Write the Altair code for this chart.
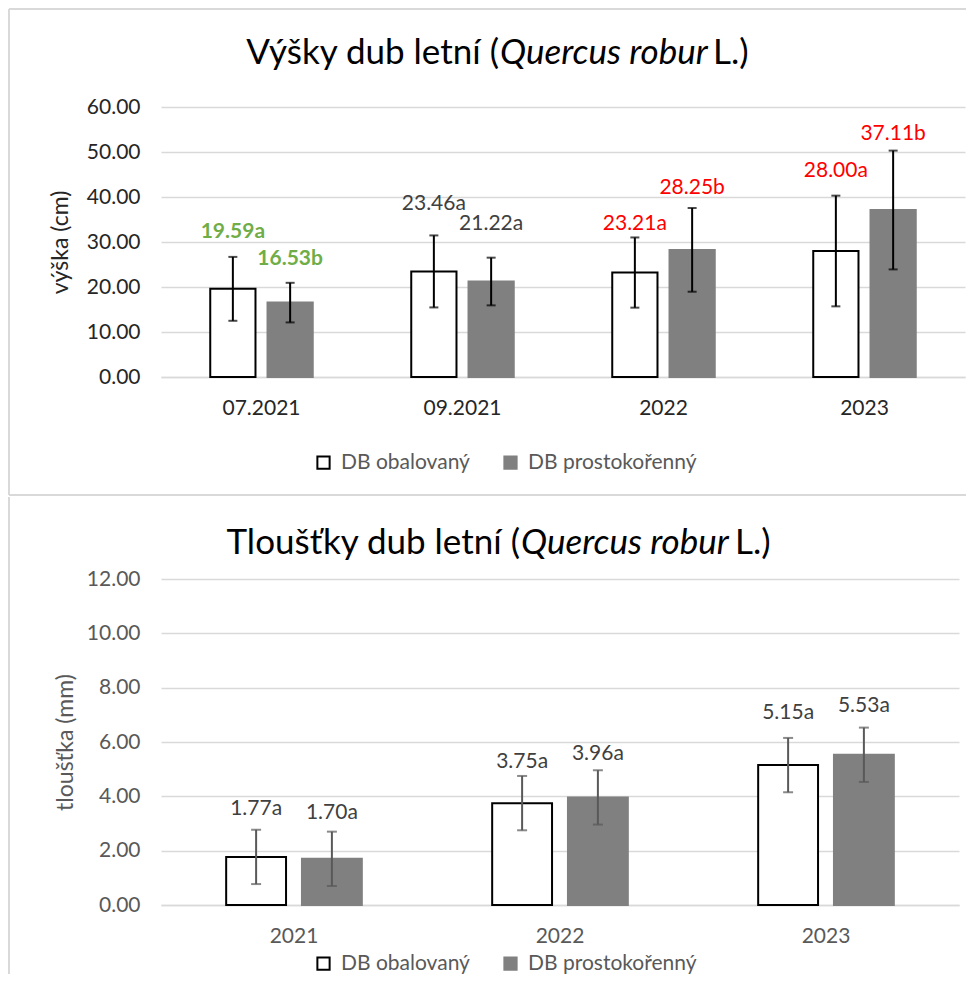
import altair as alt
import pandas as pd

FONT = "Lato"

# ---------------- data: heights (výška, cm) ----------------
h_dates = ["07.2021", "09.2021", "2022", "2023"]
h_obal = [19.59, 23.46, 23.21, 28.00]
h_pros = [16.53, 21.22, 28.25, 37.11]
h_obal_err = [7.1, 8.0, 7.8, 12.3]
h_pros_err = [4.4, 5.3, 9.3, 13.2]
h_obal_sig = ["a", "a", "a", "a"]
h_pros_sig = ["b", "a", "b", "b"]
h_obal_label_at = [32.2, 38.4, 34.0, 45.8]
h_pros_label_at = [26.2, 34.0, 42.0, 54.0]

# ---------------- data: thickness (tloušťka, mm) ----------------
t_years = ["2021", "2022", "2023"]
t_obal = [1.77, 3.75, 5.15]
t_pros = [1.70, 3.96, 5.53]
t_obal_err = [1.0, 1.0, 1.0]
t_pros_err = [1.0, 1.0, 1.0]
t_obal_sig = ["a", "a", "a"]
t_pros_sig = ["a", "a", "a"]
t_obal_label_at = [3.53, 5.26, 7.07]
t_pros_label_at = [3.39, 5.56, 7.32]

series = ["DB obalovaný", "DB prostokořenný"]

# label styles per category (style, not data)
h_style = {"07.2021": ("#70AD47", "bold"), "09.2021": ("#404040", "normal"),
           "2022": ("#FF0000", "normal"), "2023": ("#FF0000", "normal")}
t_style = {c: ("#404040", "normal") for c in t_years}


def make_df(cats, a, b, ea, eb, sa, sb, la, lb, style):
    rows = []
    for i, c in enumerate(cats):
        for s, v, e, g, l in ((series[0], a[i], ea[i], sa[i], la[i]),
                              (series[1], b[i], eb[i], sb[i], lb[i])):
            rows.append(dict(cat=c, series=s, value=v, err=e,
                             label=f"{v:.2f}{g}", label_at=l,
                             lab_color=style[c][0], lab_weight=style[c][1]))
    return pd.DataFrame(rows)


h_df = make_df(h_dates, h_obal, h_pros, h_obal_err, h_pros_err,
               h_obal_sig, h_pros_sig, h_obal_label_at, h_pros_label_at, h_style)
t_df = make_df(t_years, t_obal, t_pros, t_obal_err, t_pros_err,
               t_obal_sig, t_pros_sig, t_obal_label_at, t_pros_label_at, t_style)

one = pd.DataFrame({"k": [0]})


def panel(df, cats, ymax, ystep, width, height, ytitle, ytitle_x, axis_color,
          err_color, cap, title_parts, title_y, title_x, title_size, legend_y, border):
    xdef = alt.X("cat:N", sort=cats,
                 scale=alt.Scale(paddingInner=0.49, paddingOuter=0.245),
                 axis=alt.Axis(title=None, labelAngle=0, labelFont=FONT, labelFontSize=21,
                               labelColor=axis_color, labelPadding=31, labelBaseline="middle",
                               ticks=False, tickSize=0, domain=True, domainColor="#d9d9d9",
                               domainWidth=1.5, grid=False))
    xo = alt.XOffset("series:N", sort=series,
                     scale=alt.Scale(domain=series, paddingInner=0.21, paddingOuter=0))
    yscale = alt.Scale(domain=[0, ymax], nice=False)
    vals = [i * ystep for i in range(int(round(ymax / ystep)) + 1)]
    yaxis = alt.Axis(values=vals, format=".2f", title=ytitle, grid=True, gridColor="#d9d9d9",
                     gridWidth=1.5, domain=False, ticks=False, tickSize=0, labelPadding=21,
                     labelFont=FONT, labelFontSize=21, labelColor=axis_color,
                     titleFont=FONT, titleFontSize=23, titleFontWeight="normal",
                     titleColor=axis_color, titleX=ytitle_x, titleY=height / 2,
                     titleAlign="center", titleBaseline="middle")

    def Y(field):
        return alt.Y(field, scale=yscale, axis=yaxis)

    base = alt.Chart(df)
    legend = alt.Legend(title=None, orient="none", legendX=152, legendY=legend_y,
                        direction="horizontal", symbolType="square", symbolSize=150,
                        symbolStrokeWidth=2, labelFont=FONT, labelFontSize=21,
                        labelColor="#595959", columnPadding=30, labelOffset=7, labelLimit=400)
    bars = base.mark_bar(strokeWidth=2).encode(
        x=xdef, xOffset=xo,
        y=Y("value:Q"),
        fill=alt.Fill("series:N", sort=series,
                      scale=alt.Scale(domain=series, range=["#ffffff", "#808080"]), legend=legend),
        stroke=alt.Stroke("series:N", sort=series,
                          scale=alt.Scale(domain=series, range=["#000000", "#808080"]), legend=legend),
    )
    eb = base.transform_calculate(lo="datum.value - datum.err", hi="datum.value + datum.err")
    rule = eb.mark_rule(color=err_color, strokeWidth=2).encode(
        x=xdef, xOffset=xo, y=Y("lo:Q"), y2="hi:Q")
    cap_lo = eb.mark_tick(color=err_color, thickness=2, size=cap).encode(
        x=xdef, xOffset=xo, y=Y("lo:Q"))
    cap_hi = eb.mark_tick(color=err_color, thickness=2, size=cap).encode(
        x=xdef, xOffset=xo, y=Y("hi:Q"))

    layers = [bars, rule, cap_lo, cap_hi]
    for w in ("normal", "bold"):
        if (df.lab_weight == w).any():
            layers.append(
                base.transform_filter(alt.datum.lab_weight == w)
                .mark_text(font=FONT, fontSize=21, fontWeight=w, baseline="middle", align="center")
                .encode(x=xdef, xOffset=xo, y=Y("label_at:Q"),
                        text="label:N", color=alt.Color("lab_color:N", scale=None)))

    # title in three parts (italic species name)
    p1, p2, p3 = title_parts
    xq, w2 = title_x
    layers.append(alt.Chart(one).mark_text(font=FONT, fontSize=title_size, align="right",
                                           baseline="middle", color="#000000", text=p1)
                  .encode(x=alt.value(xq), y=alt.value(title_y)))
    layers.append(alt.Chart(one).mark_text(font=FONT, fontSize=title_size, fontStyle="italic",
                                           align="left", baseline="middle", color="#000000", text=p2)
                  .encode(x=alt.value(xq + 1), y=alt.value(title_y)))
    layers.append(alt.Chart(one).mark_text(font=FONT, fontSize=title_size, align="left",
                                           baseline="middle", color="#000000", text=p3)
                  .encode(x=alt.value(xq + 1 + w2), y=alt.value(title_y)))

    # chart-area border lines
    for (x1, x2, y1, y2, op) in border:
        enc = dict(x=alt.value(x1), y=alt.value(y1))
        if x2 is not None:
            enc["x2"] = alt.value(x2)
        if y2 is not None:
            enc["y2"] = alt.value(y2)
        layers.append(alt.Chart(one).mark_rule(color="#d9d9d9", strokeWidth=2, opacity=op).encode(**enc))

    return alt.layer(*layers).properties(width=width, height=height)


top = panel(h_df, h_dates, 60, 10, 804, 270, "výška (cm)", -101, "#262626", "#000000", 9,
            ("Výšky dub letní (", "Quercus robur", " L.)"), -54, (338, 213), 35, 345,
            [(-152, 805, -98, None, 1), (-152, None, -98, 388, 1), (-152, 805, 388, None, 1)])
bottom = panel(t_df, t_years, 12, 2, 798, 326, "tloušťka (mm)", -96, "#595959", "#595959", 10,
               ("Tloušťky dub letní (", "Quercus robur", " L.)"), -36, (359, 214), 35, 374,
               [(-152, None, -82, 395, 1), (-152, 805, -82, None, 0)])

chart = (alt.vconcat(top, bottom, spacing=0)
         .resolve_scale(xOffset="independent", fill="independent", stroke="independent")
         .resolve_legend(fill="independent", stroke="independent")
         .properties(padding=0)
         .configure_view(stroke=None))

chart.save("out.html", embed_options={"renderer": "svg", "actions": False})
